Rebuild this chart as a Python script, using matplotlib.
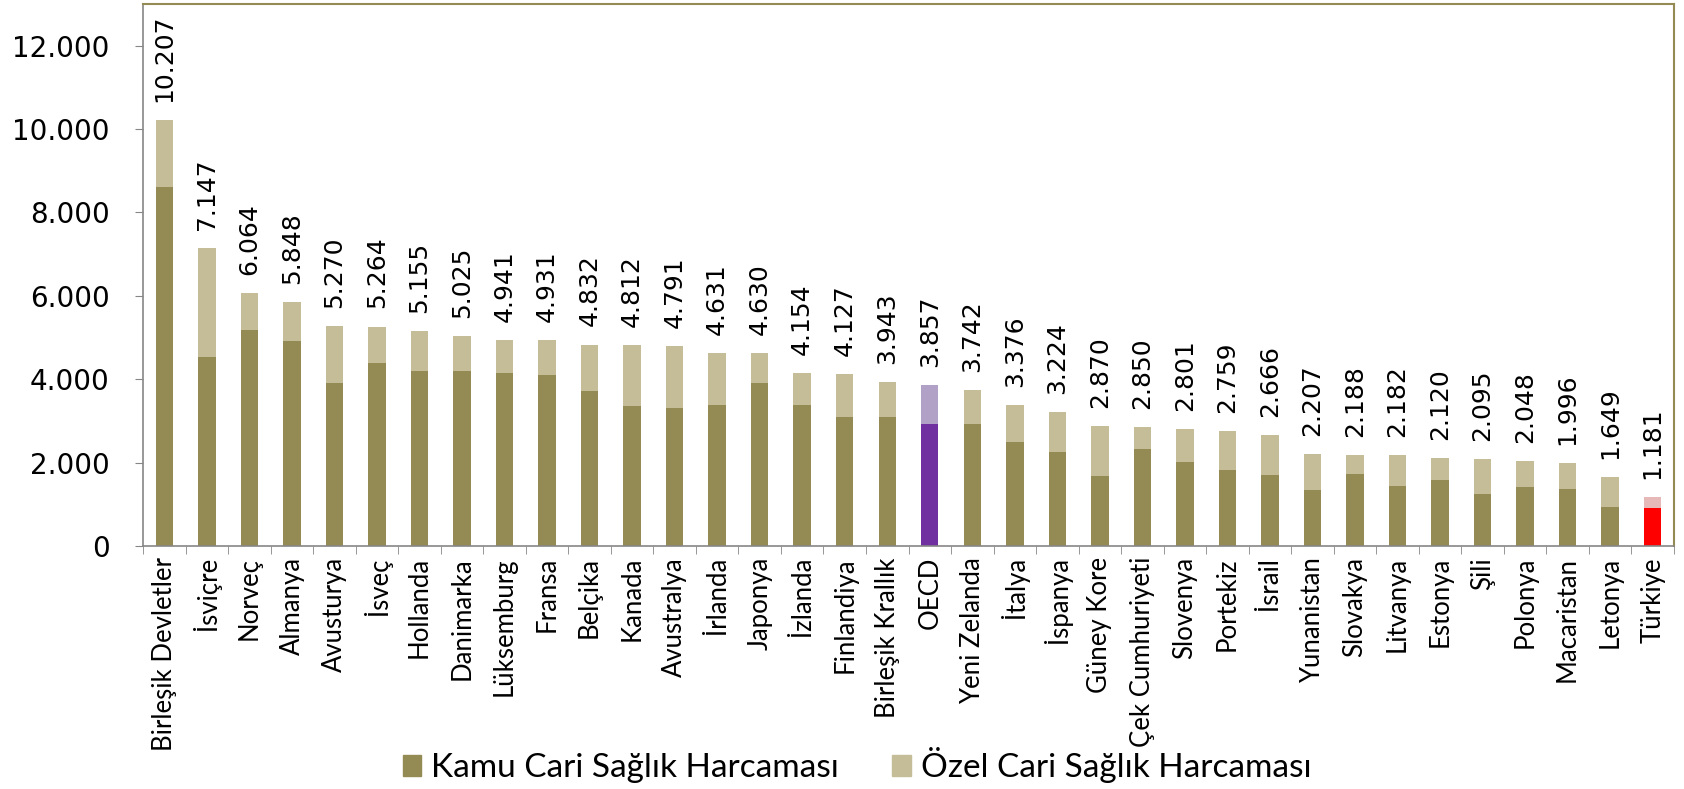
import numpy as np
from matplotlib import pyplot as plt
from matplotlib.ticker import FuncFormatter, FixedLocator
from matplotlib.patches import Patch

# Data
countries = ['Birleşik Devletler', 'İsviçre', 'Norveç', 'Almanya', 'Avusturya', 'İsveç',
             'Hollanda', 'Danimarka', 'Lüksemburg', 'Fransa', 'Belçika', 'Kanada',
             'Avustralya', 'İrlanda', 'Japonya', 'İzlanda', 'Finlandiya', 'Birleşik Krallık',
             'OECD', 'Yeni Zelanda', 'İtalya', 'İspanya', 'Güney Kore', 'Çek Cumhuriyeti',
             'Slovenya', 'Portekiz', 'İsrail', 'Yunanistan', 'Slovakya', 'Litvanya',
             'Estonya', 'Şili', 'Polonya', 'Macaristan', 'Letonya', 'Türkiye']
totals = [10207, 7147, 6064, 5848, 5270, 5264, 5155, 5025, 4941, 4931, 4832, 4812,
          4791, 4631, 4630, 4154, 4127, 3943, 3857, 3742, 3376, 3224, 2870, 2850,
          2801, 2759, 2666, 2207, 2188, 2182, 2120, 2095, 2048, 1996, 1649, 1181]
public = [8620, 4540, 5170, 4925, 3900, 4400, 4190, 4205, 4137, 4105, 3716, 3354,
          3300, 3373, 3908, 3390, 3090, 3103, 2931, 2935, 2483, 2264, 1667, 2330,
          2017, 1819, 1694, 1331, 1733, 1432, 1571, 1250, 1411, 1368, 940, 916]


def thousands(x, pos):
    return '{:,.0f}'.format(x).replace(',', '.')


n = len(countries)
x = np.arange(n)
private = [t - p for t, p in zip(totals, public)]

dark_col = ['#948a54'] * n
light_col = ['#c4bd97'] * n
i_oecd = countries.index('OECD')
i_tr = countries.index('Türkiye')
dark_col[i_oecd], light_col[i_oecd] = '#7030a0', '#b2a1c7'
dark_col[i_tr], light_col[i_tr] = '#ff0000', '#e6b9b8'

fig = plt.figure(figsize=(16.84, 7.89), dpi=100)
ax = fig.add_axes([0.085, 0.308, 0.909, 0.687])

ax.bar(x, public, width=0.41, color=dark_col, zorder=2)
ax.bar(x, private, width=0.41, bottom=public, color=light_col, zorder=2)

for xi, t in zip(x, totals):
    ax.annotate(thousands(t, None), (xi, t), xytext=(0, 13), textcoords='offset points',
                rotation=90, ha='center', va='bottom', fontsize=18,
                family=['Liberation Sans Narrow', 'DejaVu Sans'])

ax.set_xlim(-0.5, n - 0.5)
ax.set_ylim(0, 13000)
ax.set_yticks(range(0, 12001, 2000))
ax.yaxis.set_major_formatter(FuncFormatter(thousands))
ax.tick_params(axis='y', labelsize=20, length=6, color='#868686', direction='out', pad=18)

ax.set_xticks(x)
ax.set_xticklabels(countries, rotation=90, fontsize=18.5, family=['Lato', 'DejaVu Sans'])
ax.tick_params(axis='x', which='major', length=0, pad=8)
ax.xaxis.set_minor_locator(FixedLocator(np.arange(-0.5, n, 1)))
ax.tick_params(axis='x', which='minor', length=6, color='#868686')

for s in ['left', 'bottom']:
    ax.spines[s].set_color('#868686')
    ax.spines[s].set_linewidth(1.2)
for s in ['top', 'right']:
    ax.spines[s].set_color('#948a54')
    ax.spines[s].set_linewidth(1.5)

handles = [Patch(color='#948a54', label='Kamu Cari Sağlık Harcaması'),
           Patch(color='#c4bd97', label='Özel Cari Sağlık Harcaması')]
fig.legend(handles=handles, loc='center', bbox_to_anchor=(0.509, 0.03), ncol=2,
           frameon=False, prop={'family': ['Lato', 'DejaVu Sans'], 'size': 24},
           handlelength=0.55, handleheight=0.55, handletextpad=0.3, columnspacing=1.6,
           borderpad=0)

fig.savefig('out.png')
